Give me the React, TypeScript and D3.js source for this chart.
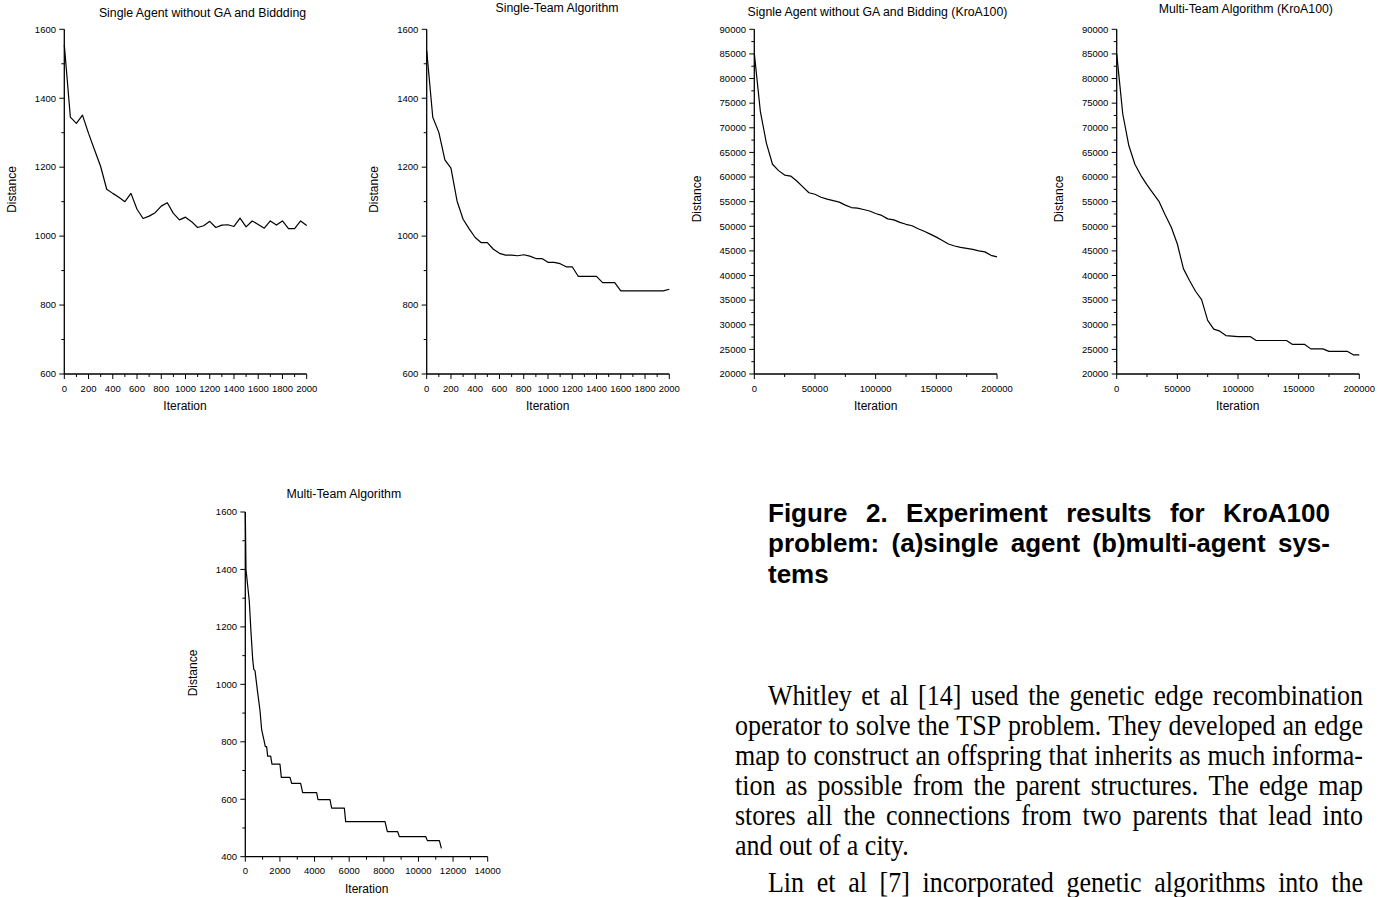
import React from 'react';
import * as d3 from 'd3';

// ---------- DATA ----------
const iterA = d3.range(0, 2001, 50);
const distSingle = [1555, 1345, 1327, 1351, 1298, 1250, 1202, 1136, 1124, 1113, 1100, 1124, 1078, 1051, 1058, 1068, 1087, 1097, 1066, 1047, 1055, 1042, 1025, 1030, 1043, 1025, 1032, 1033, 1028, 1052, 1027, 1044, 1034, 1023, 1044, 1032, 1044, 1022, 1022, 1044, 1031];
const distSingleTeam = [1538, 1345, 1301, 1221, 1197, 1102, 1049, 1021, 996, 981, 981, 962, 950, 945, 945, 943, 946, 942, 935, 935, 924, 924, 920, 911, 911, 883, 883, 883, 883, 865, 865, 865, 841, 841, 841, 841, 841, 841, 841, 841, 846];

const iterK = d3.range(0, 200001, 5000);
const distSingleKro = [85100, 73300, 66850, 62600, 61300, 60400, 60200, 59200, 58000, 56800, 56500, 55900, 55500, 55200, 54900, 54300, 53800, 53700, 53400, 53100, 52600, 52200, 51500, 51300, 50800, 50400, 50100, 49500, 49000, 48400, 47800, 47100, 46400, 46000, 45700, 45500, 45300, 45000, 44800, 44100, 43800];
const distMultiKro = [85000, 72800, 66400, 62600, 60300, 58400, 56700, 55000, 52300, 49800, 46400, 41400, 39000, 36800, 35100, 30900, 29100, 28700, 27800, 27700, 27600, 27600, 27600, 26800, 26800, 26800, 26800, 26800, 26800, 26000, 26000, 26000, 25100, 25100, 25100, 24600, 24600, 24600, 24600, 23900, 23900];

const iterMulti = [0, 40, 230, 330, 430, 490, 560, 700, 850, 944, 1079, 1156, 1233, 1290, 1464, 1541, 2003, 2080, 2581, 2677, 3197, 3313, 4121, 4198, 4892, 4988, 5720, 5797, 8070, 8205, 8802, 8898, 10420, 10516, 11210, 11325];
const distMulti = [1600, 1400, 1290, 1180, 1085, 1052, 1048, 978, 908, 842, 806, 783, 783, 750, 750, 722, 722, 676, 676, 655, 655, 623, 623, 599, 599, 569, 569, 522, 522, 487, 487, 470, 470, 456, 456, 429];

const xTicks2000 = [0, 200, 400, 600, 800, 1000, 1200, 1400, 1600, 1800, 2000];
const yTicks1600 = [600, 800, 1000, 1200, 1400, 1600];
const xTicksKro = [0, 50000, 100000, 150000, 200000];
const yTicksKro = [20000, 25000, 30000, 35000, 40000, 45000, 50000, 55000, 60000, 65000, 70000, 75000, 80000, 85000, 90000];
const xTicks14000 = [0, 2000, 4000, 6000, 8000, 10000, 12000, 14000];
const yTicks400 = [400, 600, 800, 1000, 1200, 1400, 1600];

const titles = [
  'Single Agent without GA and Biddding',
  'Single-Team Algorithm',
  'Signle Agent without GA and Bidding (KroA100)',
  'Multi-Team Algorithm (KroA100)',
  'Multi-Team Algorithm',
];

const captionLines = [
  'Figure 2. Experiment results for KroA100',
  'problem: (a)single agent (b)multi-agent sys-',
  'tems',
];
const bodyLines = [
  'Whitley et al [14] used the genetic edge recombination',
  'operator to solve the TSP problem. They developed an edge',
  'map to construct an offspring that inherits as much informa-',
  'tion as possible from the parent structures. The edge map',
  'stores all the connections from two parents that lead into',
  'and out of a city.',
  'Lin et al [7] incorporated genetic algorithms into the',
];

// ---------- LAYOUT ----------
const SANS = "'Liberation Sans', Arial, Helvetica, sans-serif";
const SERIF = "'Liberation Serif', 'Times New Roman', serif";

type ChartCfg = {
  title: string;
  xs: number[];
  ys: number[];
  xDomain: [number, number];
  yDomain: [number, number];
  xTicks: number[];
  yTicks: number[];
  xMinor: number;
  yMinor: number;
  x0: number; x1: number; yTop: number; yBot: number;
  titleX: number; titleY: number;
  distX: number; distY: number;
  iterX: number; iterY: number;
  xLabY: number;
};

const charts: ChartCfg[] = [
  { title: titles[0], xs: iterA, ys: distSingle, xDomain: [0, 2000], yDomain: [600, 1600], xTicks: xTicks2000, yTicks: yTicks1600, xMinor: 100, yMinor: 100,
    x0: 64.3, x1: 306.7, yTop: 29.3, yBot: 374, titleX: 202.5, titleY: 17.3, distX: 16, distY: 189.5, iterX: 185, iterY: 410, xLabY: 392 },
  { title: titles[1], xs: iterA, ys: distSingleTeam, xDomain: [0, 2000], yDomain: [600, 1600], xTicks: xTicks2000, yTicks: yTicks1600, xMinor: 100, yMinor: 100,
    x0: 426.7, x1: 669.3, yTop: 29.3, yBot: 374, titleX: 557, titleY: 11.7, distX: 378, distY: 189.5, iterX: 547.7, iterY: 410, xLabY: 392 },
  { title: titles[2], xs: iterK, ys: distSingleKro, xDomain: [0, 200000], yDomain: [20000, 90000], xTicks: xTicksKro, yTicks: yTicksKro, xMinor: 25000, yMinor: 2500,
    x0: 754.3, x1: 997, yTop: 29.3, yBot: 374, titleX: 877.5, titleY: 15.7, distX: 701, distY: 199, iterX: 875.7, iterY: 410, xLabY: 392 },
  { title: titles[3], xs: iterK, ys: distMultiKro, xDomain: [0, 200000], yDomain: [20000, 90000], xTicks: xTicksKro, yTicks: yTicksKro, xMinor: 25000, yMinor: 2500,
    x0: 1116.7, x1: 1359.3, yTop: 29.3, yBot: 374, titleX: 1245.8, titleY: 13.3, distX: 1063.3, distY: 199, iterX: 1237.7, iterY: 410, xLabY: 392 },
  { title: titles[4], xs: iterMulti, ys: distMulti, xDomain: [0, 14000], yDomain: [400, 1600], xTicks: xTicks14000, yTicks: yTicks400, xMinor: 1000, yMinor: 100,
    x0: 245.3, x1: 487.7, yTop: 512, yBot: 856.7, titleX: 343.8, titleY: 498.3, distX: 197.3, distY: 673, iterX: 366.7, iterY: 893, xLabY: 874 },
];

let measureCtx: CanvasRenderingContext2D | null = null;
function measure(text: string, font: string): number {
  if (!measureCtx) measureCtx = document.createElement('canvas').getContext('2d');
  if (!measureCtx) return text.length * 10;
  measureCtx.font = font;
  return measureCtx.measureText(text).width;
}

function Chart({ c }: { c: ChartCfg }) {
  const x = d3.scaleLinear().domain(c.xDomain).range([c.x0, c.x1]);
  const y = d3.scaleLinear().domain(c.yDomain).range([c.yBot, c.yTop]);
  const line = d3.line<number>().x((_, i) => x(c.xs[i])).y((d) => y(d));
  const xMinorTicks = d3.range(c.xDomain[0], c.xDomain[1] + 1e-9, c.xMinor).filter((v) => !c.xTicks.includes(v));
  const yMinorTicks = d3.range(c.yDomain[0], c.yDomain[1] + 1e-9, c.yMinor).filter((v) => !c.yTicks.includes(v));
  return (
    <g>
      <text x={c.titleX} y={c.titleY} textAnchor="middle" fontSize={12.3} fontFamily={SANS} fill="#000">{c.title}</text>
      <path d={line(c.ys) || ''} fill="none" stroke="#000" strokeWidth={1.2} strokeLinejoin="round" />
      <line x1={c.x0} x2={c.x0} y1={c.yTop} y2={c.yBot} stroke="#000" strokeWidth={1.3} />
      <line x1={c.x0} x2={c.x1} y1={c.yBot} y2={c.yBot} stroke="#000" strokeWidth={1.3} />
      {c.yTicks.map((v) => (
        <g key={'y' + v}>
          <line x1={c.x0 - 5} x2={c.x0} y1={y(v)} y2={y(v)} stroke="#000" strokeWidth={1} />
          <text x={c.x0 - 8.3} y={y(v) + 3.3} textAnchor="end" fontSize={9.5} fontFamily={SANS} fill="#000">{v}</text>
        </g>
      ))}
      {yMinorTicks.map((v) => (
        <line key={'ym' + v} x1={c.x0 - 3} x2={c.x0} y1={y(v)} y2={y(v)} stroke="#000" strokeWidth={1} />
      ))}
      {c.xTicks.map((v) => (
        <g key={'x' + v}>
          <line x1={x(v)} x2={x(v)} y1={c.yBot} y2={c.yBot + 5} stroke="#000" strokeWidth={1} />
          <text x={x(v)} y={c.xLabY} textAnchor="middle" fontSize={9.5} fontFamily={SANS} fill="#000">{v}</text>
        </g>
      ))}
      {xMinorTicks.map((v) => (
        <line key={'xm' + v} x1={x(v)} x2={x(v)} y1={c.yBot} y2={c.yBot + 3} stroke="#000" strokeWidth={1} />
      ))}
      <text x={c.iterX} y={c.iterY} textAnchor="middle" fontSize={12} fontFamily={SANS} fill="#000">Iteration</text>
      <text transform={`translate(${c.distX},${c.distY}) rotate(-90)`} textAnchor="middle" fontSize={12} fontFamily={SANS} fill="#000">Distance</text>
    </g>
  );
}

function JustifiedLine({ text, x0, x1, y, font, family, size, weight, justify, sy }:
  { text: string; x0: number; x1: number; y: number; font: string; family: string; size: number; weight: string; justify: boolean; sy: number }) {
  const tf = `translate(0,${y}) scale(1,${sy})`;
  if (!justify) {
    return <g transform={tf}><text x={x0} y={0} fontFamily={family} fontSize={size} fontWeight={weight} fill="#000">{text}</text></g>;
  }
  const words = text.split(' ');
  const widths = words.map((w) => measure(w, font));
  const total = widths.reduce((a, b) => a + b, 0);
  const gap = words.length > 1 ? (x1 - x0 - total) / (words.length - 1) : 0;
  let cx = x0;
  const items = words.map((w, i) => {
    const pos = cx;
    cx += widths[i] + gap;
    return <text key={i} x={pos} y={0} fontFamily={family} fontSize={size} fontWeight={weight} fill="#000">{w}</text>;
  });
  return <g transform={tf}>{items}</g>;
}

export default function App() {
  const capFont = `bold 26px 'Liberation Sans'`;
  const bodyFont = `26px 'Liberation Serif'`;
  const capY = [522, 552, 583];
  const bodyY = [705, 735, 765, 795, 825, 855, 892];
  return (
    <svg width={1392} height={897} style={{ position: 'absolute', left: 0, top: 0, background: '#fff' }}>
      <rect x={0} y={0} width={1392} height={897} fill="#fff" />
      {charts.map((c, i) => <Chart key={i} c={c} />)}
      {captionLines.map((t, i) => (
        <JustifiedLine key={'c' + i} text={t} x0={768} x1={1330} y={capY[i]} font={capFont} family={SANS} size={26} weight="bold" justify={i < 2} sy={1} />
      ))}
      {bodyLines.map((t, i) => (
        <JustifiedLine key={'b' + i} text={t} x0={i === 0 || i === 6 ? 768 : 735} x1={1363} y={bodyY[i]} font={bodyFont} family={SERIF} size={26} weight="normal" justify={i !== 5} sy={1.15} />
      ))}
    </svg>
  );
}
